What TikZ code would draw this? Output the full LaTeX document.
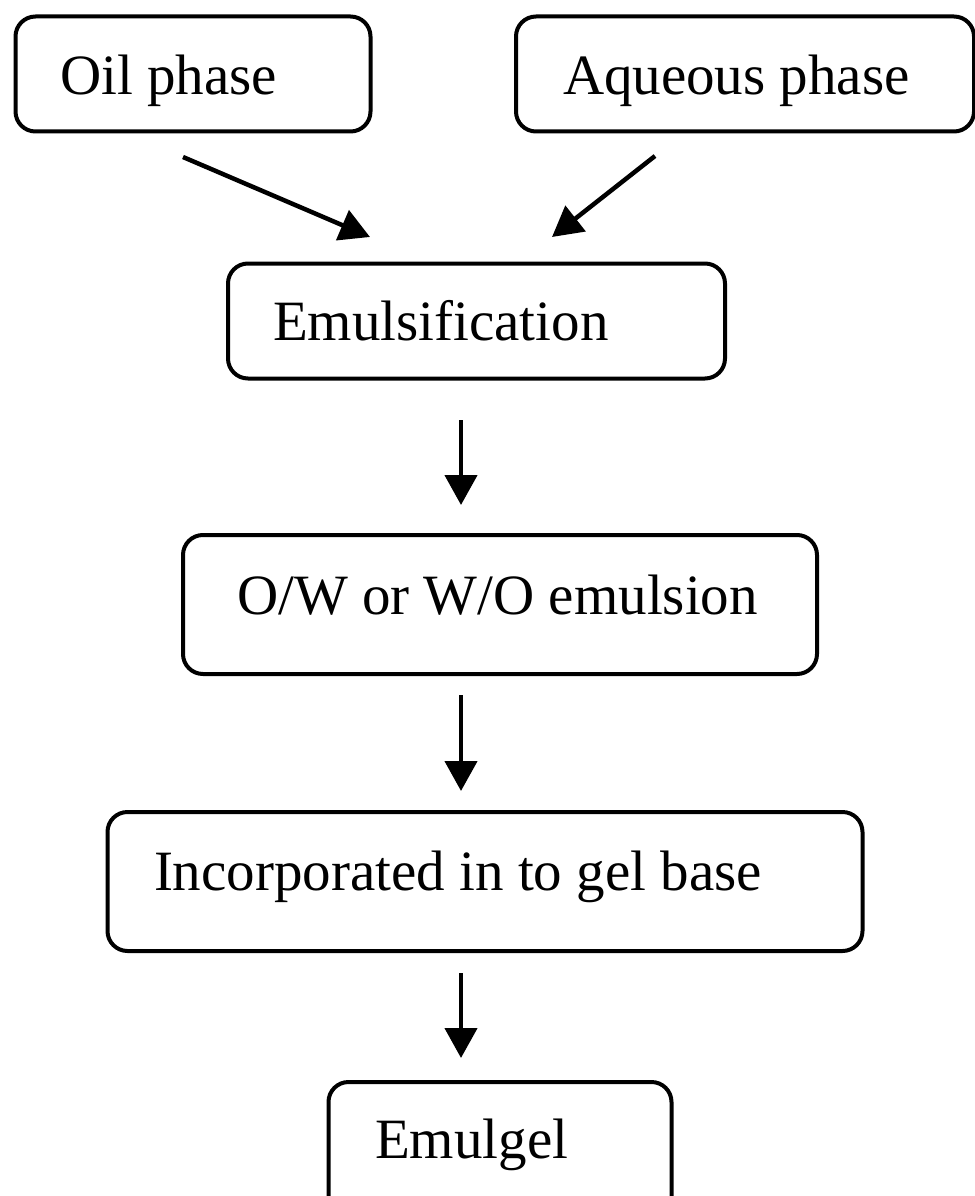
\documentclass[tikz,border=0pt]{standalone}
\usepackage{fontspec}
\setmainfont{Liberation Serif}
\usetikzlibrary{arrows.meta}

\tikzset{
  stagebox/.style={draw=black, line width=4pt, rounded corners=20pt,
    rectangle, inner sep=0pt, outer sep=0pt},
  stagetext/.style={anchor=base west, inner sep=0pt, outer sep=0pt,
    font=\fontsize{57pt}{68pt}\selectfont},
  flowarrow/.style={line width=4.5pt,
    -{Triangle[length=30pt,width=32pt]}}
}

\begin{document}
\begin{tikzpicture}[x=1pt,y=-1pt]
  \useasboundingbox (0,0) rectangle (974,1196);

  % process boxes
  \node[stagebox, minimum width=355pt, minimum height=115pt] (oil) at (193,74) {};
  \node[stagebox, minimum width=458pt, minimum height=115pt] (aq) at (745,74) {};
  \node[stagebox, minimum width=497pt, minimum height=115pt] (emul) at (476.5,321) {};
  \node[stagebox, minimum width=634pt, minimum height=139pt] (ow) at (500,604.5) {};
  \node[stagebox, minimum width=755pt, minimum height=139pt] (gel) at (485,881.5) {};
  \node[stagebox, minimum width=343pt, minimum height=150pt] (emulgel) at (500,1157) {};

  % box labels
  \node[stagetext] (oiltxt) at (60,95) {Oil phase};
  \node[stagetext] (aqtxt) at (563,95) {Aqueous phase};
  \node[stagetext] (emultxt) at (273,340) {Emulsification};
  \node[stagetext] (owtxt) at (237,614) {O/W or W/O emulsion};
  \node[stagetext] (geltxt) at (154,890) {Incorporated in to gel base};
  \node[stagetext] (emulgeltxt) at (375,1158) {Emulgel};

  % arrow end points
  \coordinate (oilout) at (183,157);
  \coordinate (aqout) at (655,156);
  \coordinate (emulin1) at (370,237);
  \coordinate (emulin2) at (552,237);
  \coordinate (emulout) at (461,420);
  \coordinate (owin) at (461,505);
  \coordinate (owout) at (461,695);
  \coordinate (gelin) at (461,791);
  \coordinate (gelout) at (461,973);
  \coordinate (emulgelin) at (461,1058);

  % connectors
  \draw[flowarrow] (oilout) -- (emulin1);
  \draw[flowarrow] (aqout) -- (emulin2);
  \draw[flowarrow] (emulout) -- (owin);
  \draw[flowarrow] (owout) -- (gelin);
  \draw[flowarrow] (gelout) -- (emulgelin);
\end{tikzpicture}
\end{document}
